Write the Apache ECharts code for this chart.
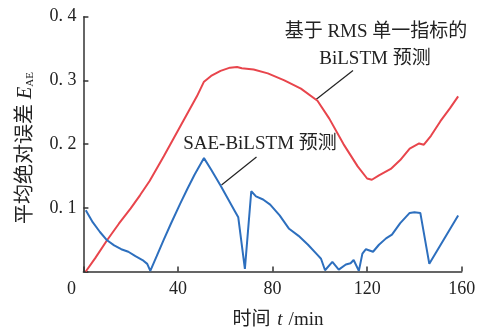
<!DOCTYPE html>
<html><head><meta charset="utf-8">
<script src="https://cdn.jsdelivr.net/npm/echarts@6/dist/echarts.min.js"></script>
<style>html,body{margin:0;padding:0;background:#fff}#c{width:491px;height:331px}</style>
</head><body><div id="c"></div>
<script>
// Data
const xTicks = [0, 40, 80, 120, 160];
const yTicks = [0, 0.1, 0.2, 0.3, 0.4];
const rmsName = '基于 RMS 单一指标的 BiLSTM 预测';
const rmsT = [1, 5, 10, 15, 20, 24, 28, 34, 41, 48, 51, 54, 58, 62, 65, 67, 72, 78, 85, 92, 99, 104, 110, 116, 120, 122, 125, 130, 134, 138, 142, 144, 147, 151, 155, 158.5];
const rmsV = [0, 0.021, 0.049, 0.075, 0.099, 0.12, 0.142, 0.181, 0.228, 0.275, 0.298, 0.307, 0.315, 0.32, 0.321, 0.319, 0.317, 0.311, 0.3, 0.287, 0.268, 0.24, 0.2, 0.165, 0.146, 0.144, 0.151, 0.161, 0.175, 0.193, 0.201, 0.199, 0.213, 0.236, 0.256, 0.275];
const saeName = 'SAE-BiLSTM 预测';
const saeT = [1, 4, 7, 10, 13, 16, 19, 22, 25, 27, 28.3, 31, 34, 37, 41, 44, 47, 51, 54, 58, 61, 64, 65.5, 68.3, 71, 73, 76, 79, 83, 87, 91, 95, 99, 100.5, 102.2, 105.3, 108, 111, 113, 114.3, 116.5, 118, 119.5, 122.5, 125, 128, 130.5, 134, 138, 140, 142.5, 146.3, 158.5];
const saeV = [0.096, 0.077, 0.062, 0.049, 0.041, 0.035, 0.031, 0.024, 0.018, 0.012, 0.001, 0.024, 0.05, 0.075, 0.107, 0.13, 0.152, 0.178, 0.16, 0.135, 0.115, 0.095, 0.085, 0.004, 0.126, 0.118, 0.113, 0.105, 0.088, 0.067, 0.056, 0.042, 0.026, 0.02, 0.002, 0.015, 0.003, 0.011, 0.013, 0.018, 0.001, 0.028, 0.035, 0.031, 0.042, 0.052, 0.058, 0.076, 0.092, 0.093, 0.092, 0.012, 0.088];

const serif = '"Liberation Serif", "Noto Sans CJK SC", serif';
const zip = (a, b) => a.map((t, i) => [t, b[i]]);
const chart = echarts.init(document.getElementById('c'), null, {renderer: 'canvas'});
const axisCommon = {
  axisLine: {show: true, onZero: false, lineStyle: {color: '#333', width: 1.5}},
  axisTick: {show: true, inside: true, length: 5, lineStyle: {color: '#333', width: 1.5}},
  splitLine: {show: false}
};
chart.setOption({
  animation: false,
  grid: {left: 83.4, right: 29.3, top: 16.7, bottom: 59.5, containLabel: false, outerBoundsMode: 'none'},
  xAxis: Object.assign({
    type: 'value', min: xTicks[0], max: xTicks[xTicks.length - 1], interval: 40,
    axisLabel: {
      margin: 9, fontFamily: serif, fontSize: 18, color: '#222',
      formatter: v => v === 0 ? '{z|0}' : String(v),
      rich: {z: {fontFamily: serif, fontSize: 18, color: '#222', padding: [0, 24, 0, 0]}}
    }
  }, axisCommon),
  yAxis: Object.assign({
    type: 'value', min: yTicks[0], max: yTicks[yTicks.length - 1], interval: 0.1,
    axisLabel: {
      margin: 7, fontFamily: serif, fontSize: 18, color: '#222',
      formatter: v => v === 0 ? '' : v.toFixed(1).replace('.', '. ')
    }
  }, axisCommon),
  series: [
    {name: rmsName, type: 'line', data: zip(rmsT, rmsV), showSymbol: false, lineStyle: {color: '#e8454c', width: 2}, itemStyle: {color: '#e8454c'}, z: 2},
    {name: saeName, type: 'line', data: zip(saeT, saeV), showSymbol: false, lineStyle: {color: '#2d6fbe', width: 2}, itemStyle: {color: '#2d6fbe'}, z: 3}
  ],
  graphic: [
    {type: 'text', x: 376, y: 32, style: {text: '基于 RMS 单一指标的', font: '19px ' + serif, fill: '#222', align: 'center', verticalAlign: 'middle'}},
    {type: 'text', x: 375, y: 59, style: {text: 'BiLSTM 预测', font: '19px ' + serif, fill: '#222', align: 'center', verticalAlign: 'middle'}},
    {type: 'line', shape: {x1: 353, y1: 70.5, x2: 316, y2: 99.5}, style: {stroke: '#222', lineWidth: 1.2}},
    {type: 'text', x: 260, y: 144, style: {text: 'SAE-BiLSTM 预测', font: '19px ' + serif, fill: '#222', align: 'center', verticalAlign: 'middle'}},
    {type: 'line', shape: {x1: 256.5, y1: 157, x2: 221.5, y2: 185}, style: {stroke: '#222', lineWidth: 1.2}},
    {type: 'text', x: 278, y: 320, style: {
      text: '时间 {i|t}/min', font: '19px ' + serif, fill: '#222', align: 'center', verticalAlign: 'middle',
      rich: {i: {fontFamily: serif, fontSize: 19, fontStyle: 'italic', fill: '#222', padding: [0, 6, 0, 2]}}
    }},
    {type: 'text', x: 26, y: 148, rotation: Math.PI / 2, style: {
      text: '平均绝对误差 {i|E}{s|AE}', font: '20px ' + serif, fill: '#222', align: 'center', verticalAlign: 'middle',
      rich: {
        i: {fontFamily: serif, fontSize: 20, fontStyle: 'italic', fill: '#222'},
        s: {fontFamily: serif, fontSize: 11, fill: '#222', padding: [8, 0, 0, 0]}
      }
    }}
  ]
});
</script></body></html>
